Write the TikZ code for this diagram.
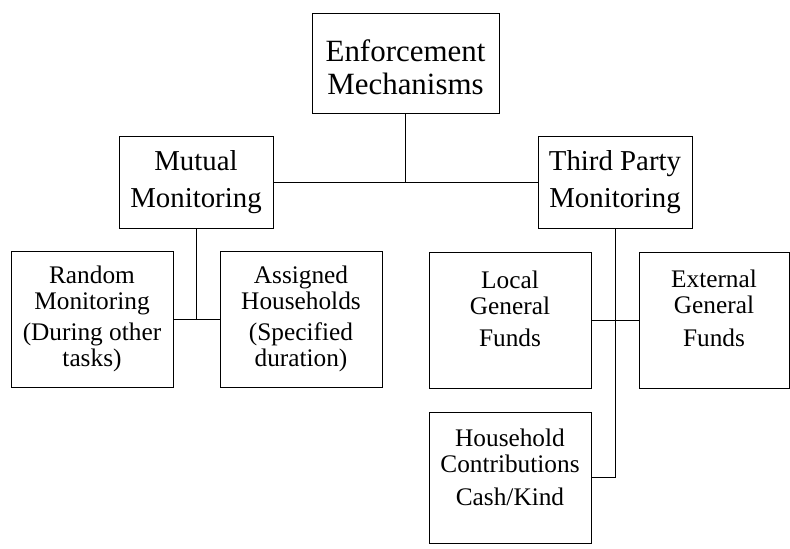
\documentclass[tikz,border=0pt]{standalone}
\usepackage{fontspec}
\setmainfont{Liberation Serif}
\usepackage{tikz}

\tikzset{
  box/.style={draw=black, line width=0.6pt, rectangle, align=center, inner sep=2pt},
  topbox/.style={box, font=\fontsize{22}{24}\selectfont},
  midbox/.style={box, font=\fontsize{20.5}{26}\selectfont, minimum width=3.85cm, minimum height=2.3cm},
  lowbox/.style={box, font=\fontsize{18}{18.5}\selectfont, minimum width=4.05cm, minimum height=3.4cm},
  link/.style={draw=black, line width=0.6pt}
}

\begin{document}
\begin{tikzpicture}[x=0.025cm, y=-0.025cm]
    % frame
    \useasboundingbox (0,0) rectangle (790,548);
    % top
    \node[topbox, minimum width=4.675cm, minimum height=2.5cm] (enf) at (405.5,63) {Enforcement\\Mechanisms\\[-30pt]};
    % second level
    \node[midbox] (mut) at (196,182) {Mutual\\Monitoring};
    \node[midbox] (third) at (615,182) {Third Party\\Monitoring};
    % third level
    \node[lowbox] (rand) at (92,319) {Random\\Monitoring\\[4pt](During other\\tasks)};
    \node[lowbox] (asg) at (301,319) {Assigned\\Households\\[4pt](Specified\\duration)};
    \node[lowbox] (loc) at (510,320) {Local\\General\\[4pt]Funds\\[-2pt]};
    \node[lowbox, minimum width=3.75cm] (ext) at (714,320) {External\\General\\[5pt]Funds\\[-2pt]};
    \node[lowbox, minimum height=3.275cm] (hh) at (510,477.5) {Household\\Contributions\\[5pt]Cash/Kind\\[-4.5pt]};
    % junctions
    \coordinate (j1) at (enf.south |- mut.east);
    \coordinate (j2) at (mut.south |- rand.east);
    \coordinate (j3) at (third.south |- hh.east);
    % lines
    \draw[link] (enf.south) -- (j1);
    \draw[link] (mut.east) -- (third.west);
    \draw[link] (mut.south) -- (j2);
    \draw[link] (rand.east) -- (asg.west);
    \draw[link] (third.south) -- (j3) -- (hh.east);
    \draw[link] (loc.east) -- (ext.west);
\end{tikzpicture}
\end{document}
